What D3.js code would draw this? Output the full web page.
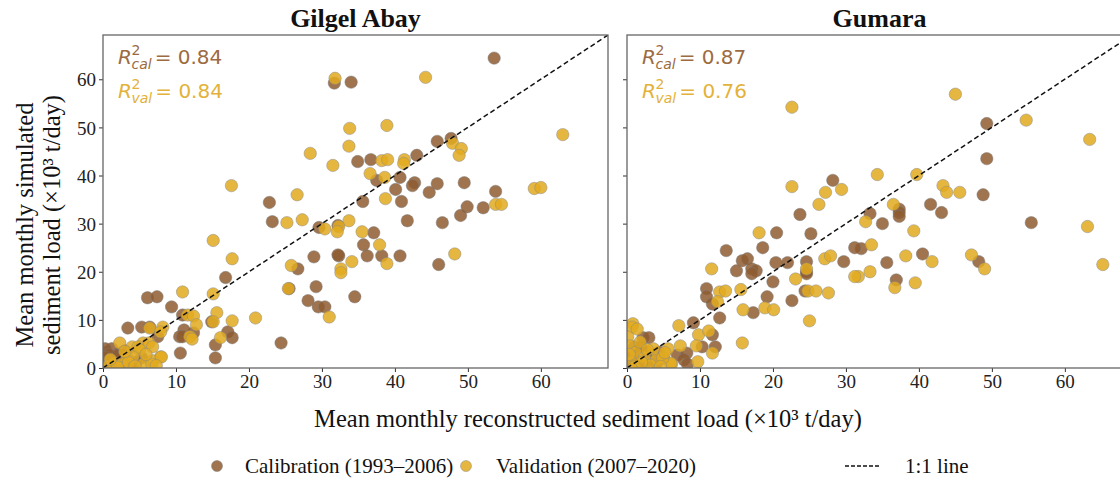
<!DOCTYPE html>
<html><head><meta charset="utf-8">
<script src="https://cdn.jsdelivr.net/npm/d3@7"></script>
<style>body{margin:0;background:#fff}svg{display:block}</style>
</head><body><svg id="c" width="1120" height="481"></svg>
<script>
// ---- data ----
const panelTitles = ["Gilgel Abay", "Gumara"];
const xTicks = [0, 10, 20, 30, 40, 50, 60];
const yTicks = [0, 10, 20, 30, 40, 50, 60];
const r2Cal = ["0.84", "0.87"];
const r2Val = ["0.84", "0.76"];
const legendLabels = ["Calibration (1993\u20132006)", "Validation (2007\u20132020)", "1:1 line"];

const gilgelCal = [[31.7,59.2],[34.0,59.4],[34.9,42.9],[22.8,34.4],[53.6,64.4],[45.8,47.1],[47.7,47.7],[36.7,43.3],[43.0,44.2],[37.5,39.0],[40.7,39.6],[40.1,37.1],[42.7,38.5],[42.4,37.9],[45.8,38.3],[49.5,38.5],[53.8,36.7],[44.7,36.5],[40.9,34.6],[35.6,34.6],[49.9,33.5],[52.1,33.3],[41.7,30.6],[46.5,30.2],[49.0,31.7],[37.1,28.1],[35.7,25.6],[32.3,23.3],[36.2,23.3],[38.2,23.3],[40.7,23.3],[46.0,21.5],[34.5,14.8],[23.2,30.4],[29.6,29.2],[32.2,29.6],[28.9,23.1],[32.2,23.5],[26.7,20.6],[16.8,18.8],[25.5,16.5],[29.2,16.9],[28.1,14.0],[29.5,12.7],[30.4,12.7],[6.1,14.6],[7.4,14.8],[9.4,12.7],[10.9,11.0],[14.9,9.6],[17.1,7.5],[17.7,6.3],[15.4,4.8],[15.4,2.1],[24.4,5.2],[12.4,7.3],[11.1,7.9],[10.5,6.5],[10.9,6.5],[10.6,3.1],[3.4,8.3],[5.3,8.5],[6.4,8.5],[7.5,6.5],[1.2,4.0],[0.5,3.3],[0.3,4.0],[1.2,2.3],[1.6,1.7],[5.3,2.1],[0.1,1.2],[2.3,3.1],[0.4,0.5],[0.8,2.8],[1.8,0.6],[2.8,1.5],[3.6,0.4],[4.5,1.2],[0.2,2.2],[1.0,0.2],[2.0,2.6],[3.0,3.6]];
const gilgelVal = [[31.8,60.2],[33.8,49.8],[33.7,46.1],[28.4,44.6],[31.5,42.1],[17.6,37.9],[26.6,36.0],[44.2,60.4],[38.9,50.4],[63.0,48.5],[47.9,46.7],[49.1,45.6],[48.8,44.2],[38.2,43.1],[39.0,43.3],[41.3,43.3],[41.2,42.5],[36.6,40.4],[38.6,39.6],[59.1,37.3],[60.0,37.5],[38.7,35.2],[53.8,34.0],[54.6,34.0],[33.7,30.6],[32.3,29.4],[35.5,28.3],[37.9,25.6],[38.9,21.7],[34.1,22.1],[32.6,20.6],[32.6,19.8],[48.2,23.7],[25.2,30.2],[27.3,30.8],[30.4,28.9],[32.1,28.3],[15.1,26.5],[17.7,22.7],[25.8,21.3],[25.4,16.5],[31.0,10.6],[10.9,15.8],[15.1,15.4],[11.6,11.0],[12.4,10.8],[15.6,11.5],[15.1,9.6],[17.7,9.8],[20.9,10.4],[16.1,6.3],[12.8,9.0],[11.9,6.5],[12.2,6.0],[6.4,8.3],[8.2,8.5],[7.9,7.5],[2.3,5.2],[5.5,5.2],[6.3,5.2],[4.0,4.4],[4.8,4.4],[7.9,2.3],[6.8,1.5],[5.5,0.8],[5.0,3.8],[6.8,4.4],[3.3,2.3],[4.1,2.3],[8.0,2.3],[6.7,0.8],[1.6,1.0],[2.6,0.8],[0.6,0.3],[2.0,0.2],[3.5,1.2],[4.4,0.4],[7.3,0.5],[1.0,1.8],[3.0,3.4],[5.9,2.8]];
const gumaraCal = [[28.2,39.0],[49.3,50.8],[49.3,43.5],[48.8,36.0],[41.6,34.0],[37.3,33.0],[37.3,32.3],[37.3,31.5],[43.1,32.3],[33.3,32.1],[35.0,30.0],[55.4,30.2],[32.1,24.8],[35.6,21.9],[40.5,23.7],[48.2,22.1],[36.9,18.3],[23.7,31.9],[20.5,28.1],[25.2,27.9],[13.6,24.4],[18.6,25.0],[15.8,22.3],[16.5,22.7],[17.1,20.6],[17.7,20.2],[17.1,19.6],[20.4,21.9],[22.0,21.9],[15.0,20.2],[24.6,22.1],[24.6,20.0],[24.6,19.6],[29.7,22.1],[31.2,25.0],[20.0,17.9],[10.9,16.5],[10.9,14.8],[24.4,16.0],[19.2,14.8],[22.6,14.0],[11.7,13.3],[17.3,11.5],[12.7,10.4],[9.1,9.4],[11.7,6.9],[10.3,4.4],[12.1,4.4],[6.9,2.7],[8.2,3.1],[7.8,1.7],[8.3,0.8],[2.2,6.3],[3.0,6.3],[4.4,3.3],[1.0,4.4],[1.9,4.4],[2.7,3.3],[0.5,2.0],[1.5,1.0],[3.5,1.8],[0.3,0.5],[2.3,0.4],[4.0,0.9],[5.0,2.0],[0.8,3.0]];
const gumaraVal = [[22.6,54.2],[22.6,37.7],[27.2,36.5],[29.4,37.1],[26.3,34.0],[45.0,56.9],[54.7,51.5],[63.4,47.5],[34.3,40.2],[39.7,40.2],[43.3,37.9],[43.8,36.5],[45.6,36.5],[36.5,34.0],[32.7,30.4],[63.1,29.4],[39.3,28.5],[33.5,25.6],[38.2,23.3],[41.8,22.1],[47.2,23.5],[49.0,20.6],[65.2,21.5],[33.3,20.0],[31.7,19.0],[36.7,16.7],[39.5,17.7],[18.1,28.1],[11.6,20.6],[24.6,20.6],[27.1,22.7],[27.9,23.3],[31.2,19.0],[23.1,18.5],[12.7,15.8],[13.5,16.0],[15.6,16.3],[24.8,16.0],[25.9,16.0],[27.6,15.6],[12.4,13.8],[15.9,12.1],[18.9,12.5],[20.1,12.1],[25.0,9.8],[7.1,8.8],[9.8,6.9],[11.2,7.7],[9.5,4.6],[7.3,4.6],[15.8,5.2],[11.7,3.1],[9.7,1.3],[5.6,4.0],[6.1,0.8],[0.8,9.2],[0.7,8.5],[1.4,8.1],[0.1,6.5],[6.0,1.0],[4.1,1.9],[4.9,2.1],[0.4,4.6],[1.2,3.2],[2.4,2.2],[3.2,0.6],[0.6,1.2],[1.8,5.4],[3.6,4.0],[4.6,0.3],[1.0,0.2],[2.8,3.8],[0.3,2.8],[5.2,3.2],[2.0,1.2]];

const panels = [
  {title: panelTitles[0], cal: gilgelCal, val: gilgelVal, r2c: r2Cal[0], r2v: r2Val[0], left: 103, showY: true},
  {title: panelTitles[1], cal: gumaraCal, val: gumaraVal, r2c: r2Cal[1], r2v: r2Val[1], left: 627, showY: false}
];

// ---- style ----
const calColor = "#8E5C30", valColor = "#E2AA1E";
const calText = "#9C6B42", valText = "#E3B23A";
const serif = "'Liberation Serif','Times New Roman',serif";
const sans = "'DejaVu Sans',sans-serif";
const plotTop = 35, plotBottom = 368, pw = 505;
const lim = 69.2;

const svg = d3.select("#c");

panels.forEach(p => {
  const x = d3.scaleLinear().domain([0, lim]).range([p.left, p.left + pw]);
  const y = d3.scaleLinear().domain([0, lim]).range([plotBottom, plotTop]);
  const g = svg.append("g");

  const xa = g.append("g").attr("transform", `translate(0,${plotBottom})`)
    .call(d3.axisBottom(x).tickValues(xTicks).tickSize(4).tickPadding(3).tickFormat(d3.format("d")));
  xa.select(".domain").remove();
  xa.selectAll("line").attr("stroke", "#333");
  xa.selectAll("text").attr("font-family", serif).attr("font-size", 19).attr("fill", "#222");

  const ya = g.append("g").attr("transform", `translate(${p.left},0)`)
    .call(d3.axisLeft(y).tickValues(yTicks).tickSize(4).tickPadding(3).tickFormat(p.showY ? d3.format("d") : () => ""));
  ya.select(".domain").remove();
  ya.selectAll("line").attr("stroke", "#333");
  ya.selectAll("text").attr("font-family", serif).attr("font-size", 19).attr("fill", "#222").attr("dy", "0.35em");

  const clipId = "clip" + p.left;
  svg.append("clipPath").attr("id", clipId).append("rect")
    .attr("x", p.left).attr("y", plotTop).attr("width", pw).attr("height", plotBottom - plotTop);

  const pts = g.append("g").attr("clip-path", `url(#${clipId})`);
  pts.selectAll("circle.cal").data(p.cal).join("circle").attr("class", "cal")
    .attr("cx", d => x(d[0])).attr("cy", d => y(d[1])).attr("r", 6.2)
    .attr("fill", calColor).attr("fill-opacity", 0.85)
    .attr("stroke", "#7a7a7a").attr("stroke-opacity", 0.6).attr("stroke-width", 0.8);
  pts.selectAll("circle.val").data(p.val).join("circle").attr("class", "val")
    .attr("cx", d => x(d[0])).attr("cy", d => y(d[1])).attr("r", 6.2)
    .attr("fill", valColor).attr("fill-opacity", 0.85)
    .attr("stroke", "#8a8a8a").attr("stroke-opacity", 0.6).attr("stroke-width", 0.8);

  pts.append("line").attr("x1", x(0)).attr("y1", y(0)).attr("x2", x(lim)).attr("y2", y(lim))
    .attr("stroke", "#111").attr("stroke-width", 1.5).attr("stroke-dasharray", "5,3");

  g.append("rect").attr("x", p.left).attr("y", plotTop).attr("width", pw).attr("height", plotBottom - plotTop)
    .attr("fill", "none").attr("stroke", "#666").attr("stroke-width", 1.3);

  g.append("text").attr("x", p.left + pw / 2).attr("y", 27).attr("text-anchor", "middle")
    .attr("font-family", serif).attr("font-weight", "bold").attr("font-size", 26).attr("fill", "#111")
    .text(p.title);

  [[p.r2c, "cal", calText, 64], [p.r2v, "val", valText, 98]].forEach(([v, sub, col, by]) => {
    const t = g.append("text").attr("x", p.left + 15).attr("y", by)
      .attr("font-family", sans).attr("font-size", 20).attr("fill", col);
    t.append("tspan").attr("font-style", "italic").text("R");
    const rEnd = p.left + 15 + 13.5;
    t.append("tspan").attr("x", rEnd).attr("dy", -9).attr("font-size", 14).text("2");
    t.append("tspan").attr("x", rEnd).attr("dy", 14).attr("font-size", 14).attr("font-style", "italic").text(sub);
    t.append("tspan").attr("dy", -5).attr("dx", 3).text("= " + v);
  });
});

svg.append("text").attr("x", 588).attr("y", 427).attr("text-anchor", "middle")
  .attr("font-family", serif).attr("font-size", 24.5).attr("fill", "#111")
  .text("Mean monthly reconstructed sediment load (\u00d710\u00b3 t/day)");

const yl = svg.append("text").attr("transform", "translate(0,225) rotate(-90)")
  .attr("text-anchor", "middle").attr("font-family", serif).attr("font-size", 24.5).attr("fill", "#111");
yl.append("tspan").attr("x", 0).attr("y", 33).text("Mean monthly simulated");
yl.append("tspan").attr("x", 0).attr("y", 60).text("sediment load (\u00d710\u00b3 t/day)");

const lg = svg.append("g").attr("font-family", serif).attr("font-size", 21).attr("fill", "#111");
lg.append("circle").attr("cx", 217).attr("cy", 466).attr("r", 5.5).attr("fill", calColor).attr("fill-opacity", 0.85)
  .attr("stroke", "#7a7a7a").attr("stroke-opacity", 0.6).attr("stroke-width", 0.8);
lg.append("text").attr("x", 245).attr("y", 473).text(legendLabels[0]);
lg.append("circle").attr("cx", 466).attr("cy", 466).attr("r", 5.5).attr("fill", valColor).attr("fill-opacity", 0.85)
  .attr("stroke", "#8a8a8a").attr("stroke-opacity", 0.6).attr("stroke-width", 0.8);
lg.append("text").attr("x", 496).attr("y", 473).text(legendLabels[1]);
lg.append("line").attr("x1", 845).attr("x2", 881).attr("y1", 466).attr("y2", 466)
  .attr("stroke", "#111").attr("stroke-width", 1.5).attr("stroke-dasharray", "4,2");
lg.append("text").attr("x", 905).attr("y", 473).text(legendLabels[2]);
</script></body></html>
